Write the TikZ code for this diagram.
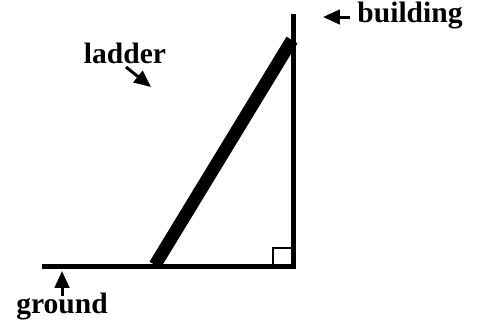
\documentclass[tikz,border=0pt]{standalone}
\usepackage{fontspec}
\setmainfont{Liberation Serif}
\usetikzlibrary{positioning, arrows.meta}

\begin{document}
\begin{tikzpicture}[
        x=0.025cm, y=-0.025cm,
        wall/.style={line width=0.125cm},
        ladderbar/.style={line width=0.32cm},
        lbl/.style={font=\bfseries\fontsize{21}{25}\selectfont, inner sep=0pt, anchor=base},
        arrow/.style={-{Triangle[length=0.42cm, width=0.36cm]}, line width=0.075cm}
    ]
        \useasboundingbox (0,0) rectangle (479,324);

        % ground and building
        \coordinate (g0) at (42,266);
        \coordinate (corner) at (296,266);
        \coordinate (btop) at (293,14);
        \draw[wall] (g0) -- (corner);
        \draw[wall] (293,268) -- (btop);

        % ladder
        \coordinate (foot) at (155,265);
        \coordinate (top) at (292,40);
        \draw[ladderbar] (foot) -- (top);

        % right angle mark
        \draw[line width=0.04cm] (273,265) |- (291,248);

        % labels
        \node[lbl] (building) at (410,22) {building};
        \node[lbl] (ladder) at (125,63) {ladder};
        \node[lbl] (ground) at (62,313) {ground};
        \coordinate (bpt) at (323,17);
        \coordinate (lpt) at (151,87);
        \coordinate (gpt) at (62,271);

        % arrows
        \draw[arrow] (350,17) -- (bpt);
        \draw[arrow] (126,67) -- (lpt);
        \draw[arrow] (62,296) -- (gpt);
    \end{tikzpicture}
\end{document}
